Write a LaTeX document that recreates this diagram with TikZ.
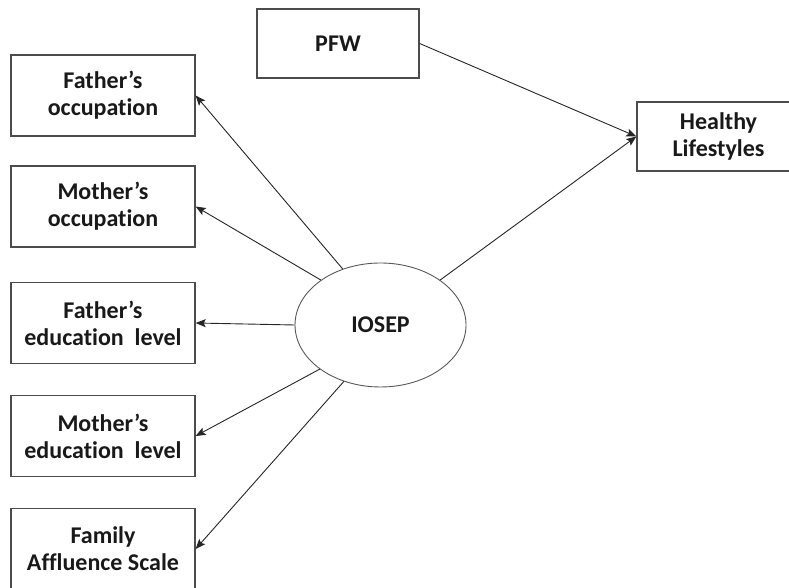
\documentclass[tikz,border=0pt]{standalone}
\usepackage{fontspec}
\setmainfont{Carlito}[Ligatures=NoCommon]
\usetikzlibrary{shapes.geometric,arrows.meta}

\tikzset{
  varbox/.style={draw=black!70, line width=1.3pt, fill=white, inner sep=0pt,
    align=center, font=\fontsize{24}{27}\selectfont\bfseries, text=black!90},
  leftbox/.style={varbox, minimum width=184pt, minimum height=81pt},
  outbox/.style={varbox, minimum width=162pt, minimum height=69pt},
  latent/.style={ellipse, draw=black!65, line width=0.9pt, inner sep=0pt,
    minimum width=171pt, minimum height=124pt,
    font=\fontsize{24}{27}\selectfont\bfseries, text=black!90},
  path/.style={draw=black!85, line width=0.9pt,
    -{Stealth[length=10pt,width=8pt,inset=2pt]}}
}

\begin{document}
\begin{tikzpicture}[x=1pt,y=1pt]
  \useasboundingbox (0,0) rectangle (789,588);
  \clip (0,0) rectangle (789,588);
  \fill[white] (0,0) rectangle (789,588);

  % observed indicators of the latent construct
  \node[leftbox] (focc) at (103,492.5) {Father’s\\occupation};
  \node[leftbox] (mocc) at (103,381.5) {Mother’s\\occupation};
  \node[leftbox] (fedu) at (103,265)   {Father’s\\education~ level};
  \node[leftbox] (medu) at (103,152)   {Mother’s\\education~ level};
  \node[leftbox] (fas)  at (103,39)    {Family\\Affluence Scale};

  % predictors and outcome
  \node[outbox] (pfw) at (338,544.5)    {PFW};
  \node[outbox, minimum width=163pt] (hl) at (718.5,451.5) {Healthy\\Lifestyles};

  % latent construct
  \node[latent] (iosep) at (380.5,263) {IOSEP};

  % paths
  \draw[path] (iosep.124) -- (focc.east);
  \draw[path] (iosep.143) -- (mocc.east);
  \draw[path] (iosep.180) -- (fedu.east);
  \draw[path] (iosep.216) -- (medu.east);
  \draw[path] (iosep.237) -- (fas.east);
  \draw[path] (pfw.east) -- (hl.west);
  \draw[path] (iosep.37) -- (hl.west);
\end{tikzpicture}
\end{document}
